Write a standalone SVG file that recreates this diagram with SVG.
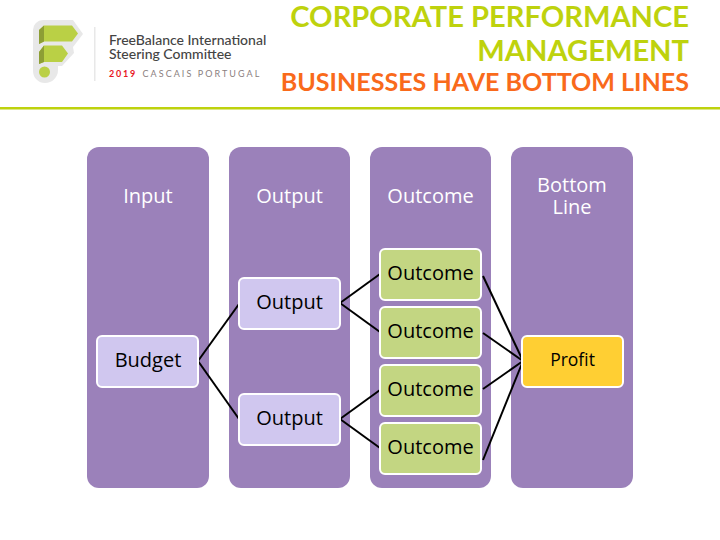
<svg xmlns="http://www.w3.org/2000/svg" width="720" height="540" viewBox="0 0 720 540">
<style>
.col{fill:#9b81ba}
.hd{font:20px "Open Sans",sans-serif;fill:#fff;text-anchor:middle}
.box{stroke:#fff;stroke-width:2}
.lb{font:20px "Open Sans",sans-serif;fill:#000;text-anchor:middle}
.t{font:700 29.100px Lato,sans-serif;fill:#bed20d;text-anchor:end}
.c line{stroke:#000;stroke-width:2}
</style>
<rect width="720" height="540" fill="#fff"/>
<g id="logo">
<path d="M43 20H73L83 34L73 47L74 53L62 66H58V70A13 13 0 0 1 45 83A12 12 0 0 1 33 71V30A10 10 0 0 1 43 20Z" fill="#e8e8e8"/>
<path d="M39 30L44 25.500H72L78 33.500L72 41.500H44L39 44Z" fill="#bad045"/>
<path d="M39 52L44 45.500H62L68 53.500L62 62H44L39 64Z" fill="#bad045"/>
<path d="M39 30L44 25.500V41.500L39 44ZM39 52L44 45.500V62L39 64Z" fill="#8d9e35"/>
<circle cx="44.500" cy="72" r="5.500" fill="#bad045"/>
<rect x="94" y="27" width="1.500" height="54" fill="#e8e8e8"/>
<text x="109" y="45" font-family="Lato,sans-serif" font-size="14" font-weight="500" fill="#444">FreeBalance International</text>
<text x="109" y="59" font-family="Lato,sans-serif" font-size="14" font-weight="500" fill="#444">Steering Committee</text>
<text x="109" y="77" font-family="Lato,sans-serif" font-size="9" font-weight="700" letter-spacing="1.800" fill="#e8171f">2019</text>
<text x="142.500" y="77" font-family="Lato,sans-serif" font-size="9" letter-spacing="2.050" fill="#8a8080">CASCAIS PORTUGAL</text>
</g>
<g id="title">
<text class="t" x="689" y="27">CORPORATE PERFORMANCE</text>
<text class="t" x="689" y="61">MANAGEMENT</text>
<text class="t" x="689" y="91" style="fill:#f96a1b;font-size:25.050px">BUSINESSES HAVE BOTTOM LINES</text>
<rect x="0" y="107" width="720" height="2.500" fill="#bed20d"/>
</g>
<g id="col-input"><rect class="col" x="87" y="147" width="122" height="341" rx="12"/><text class="hd" x="148" y="203">Input</text></g>
<g id="col-output"><rect class="col" x="229" y="147" width="121" height="341" rx="12"/><text class="hd" x="289.500" y="203">Output</text></g>
<g id="col-outcome"><rect class="col" x="370" y="147" width="121" height="341" rx="12"/><text class="hd" x="430.500" y="203">Outcome</text></g>
<g id="col-bottom"><rect class="col" x="511" y="147" width="122" height="341" rx="12"/><text class="hd" x="572" y="192">Bottom</text><text class="hd" x="572" y="214">Line</text></g>
<g class="c" id="connectors">
<line x1="198" y1="361" x2="239" y2="304"/>
<line x1="198" y1="361" x2="239" y2="419"/>
<line x1="340" y1="303" x2="380" y2="274"/>
<line x1="340" y1="303" x2="380" y2="332"/>
<line x1="340" y1="419" x2="380" y2="390"/>
<line x1="340" y1="419" x2="380" y2="448"/>
<line x1="483" y1="276" x2="523" y2="361"/>
<line x1="483" y1="333" x2="523" y2="361"/>
<line x1="483" y1="389" x2="523" y2="361"/>
<line x1="483" y1="460" x2="523" y2="361"/>
</g>
<g id="budget"><rect class="box" x="97" y="336" width="101" height="51" rx="5" fill="#d0c7ef"/><text class="lb" x="148" y="367">Budget</text></g>
<g id="output-1"><rect class="box" x="239" y="278" width="101" height="51" rx="5" fill="#d0c7ef"/><text class="lb" x="289.500" y="309">Output</text></g>
<g id="output-2"><rect class="box" x="239" y="394" width="101" height="51" rx="5" fill="#d0c7ef"/><text class="lb" x="289.500" y="425">Output</text></g>
<g id="outcome-1"><rect class="box" x="380" y="249" width="101" height="51" rx="5" fill="#c3d682"/><text class="lb" x="430.500" y="280">Outcome</text></g>
<g id="outcome-2"><rect class="box" x="380" y="307" width="101" height="51" rx="5" fill="#c3d682"/><text class="lb" x="430.500" y="338">Outcome</text></g>
<g id="outcome-3"><rect class="box" x="380" y="365" width="101" height="51" rx="5" fill="#c3d682"/><text class="lb" x="430.500" y="396">Outcome</text></g>
<g id="outcome-4"><rect class="box" x="380" y="423" width="101" height="51" rx="5" fill="#c3d682"/><text class="lb" x="430.500" y="454">Outcome</text></g>
<g id="profit"><rect class="box" x="522" y="336" width="101" height="51" rx="5" fill="#ffcf33"/><text class="lb" x="572.500" y="366" style="font-size:17.500px">Profit</text></g>
</svg>
